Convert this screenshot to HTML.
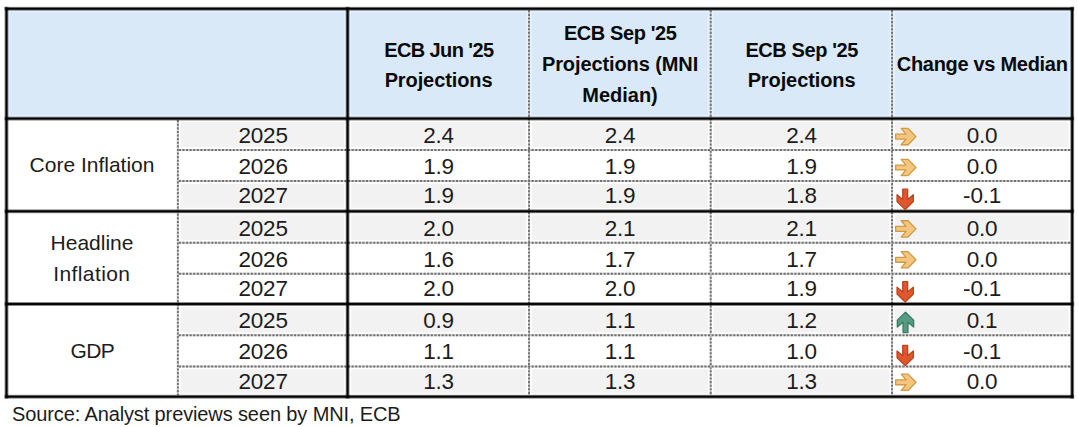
<!DOCTYPE html>
<html><head><meta charset="utf-8"><style>
html,body{margin:0;padding:0;background:#fff;}
body{width:1078px;height:427px;position:relative;overflow:hidden;font-family:"Liberation Sans", Arial, sans-serif;color:#1c1c1c;}
body>div{position:absolute;white-space:nowrap;text-align:center;}
svg{position:absolute;left:0;top:0;}
</style></head><body>
<svg width="1078" height="427" viewBox="0 0 1078 427"><rect x="6.50" y="8.75" width="1065.70" height="109.85" fill="#E5F2FD"/><rect x="10.00" y="12.25" width="334.10" height="102.85" fill="#DAE9F8"/><rect x="351.10" y="12.25" width="175.20" height="102.85" fill="#DAE9F8"/><rect x="531.80" y="12.25" width="176.15" height="102.85" fill="#DAE9F8"/><rect x="713.45" y="12.25" width="175.85" height="102.85" fill="#DAE9F8"/><rect x="894.80" y="12.25" width="173.90" height="102.85" fill="#DAE9F8"/><rect x="180.60" y="122.10" width="163.50" height="25.20" fill="#F2F2F2"/><rect x="351.10" y="122.10" width="175.20" height="25.20" fill="#F2F2F2"/><rect x="531.80" y="122.10" width="176.15" height="25.20" fill="#F2F2F2"/><rect x="713.45" y="122.10" width="175.85" height="25.20" fill="#F2F2F2"/><rect x="894.80" y="122.10" width="173.90" height="25.20" fill="#F2F2F2"/><rect x="180.60" y="183.80" width="163.50" height="24.00" fill="#F2F2F2"/><rect x="351.10" y="183.80" width="175.20" height="24.00" fill="#F2F2F2"/><rect x="531.80" y="183.80" width="176.15" height="24.00" fill="#F2F2F2"/><rect x="713.45" y="183.80" width="175.85" height="24.00" fill="#F2F2F2"/><rect x="180.60" y="214.80" width="163.50" height="25.15" fill="#F2F2F2"/><rect x="351.10" y="214.80" width="175.20" height="25.15" fill="#F2F2F2"/><rect x="531.80" y="214.80" width="176.15" height="25.15" fill="#F2F2F2"/><rect x="713.45" y="214.80" width="175.85" height="25.15" fill="#F2F2F2"/><rect x="894.80" y="214.80" width="173.90" height="25.15" fill="#F2F2F2"/><rect x="180.60" y="307.50" width="163.50" height="25.05" fill="#F2F2F2"/><rect x="351.10" y="307.50" width="175.20" height="25.05" fill="#F2F2F2"/><rect x="531.80" y="307.50" width="176.15" height="25.05" fill="#F2F2F2"/><rect x="713.45" y="307.50" width="175.85" height="25.05" fill="#F2F2F2"/><rect x="894.80" y="307.50" width="173.90" height="25.05" fill="#F2F2F2"/><rect x="180.60" y="369.25" width="163.50" height="23.95" fill="#F2F2F2"/><rect x="351.10" y="369.25" width="175.20" height="23.95" fill="#F2F2F2"/><rect x="531.80" y="369.25" width="176.15" height="23.95" fill="#F2F2F2"/><rect x="713.45" y="369.25" width="175.85" height="23.95" fill="#F2F2F2"/><line x1="177.85" y1="120.10" x2="177.85" y2="395.20" stroke="#cfcfcf" stroke-width="1.9"/><line x1="177.85" y1="120.10" x2="177.85" y2="395.20" stroke="#727272" stroke-width="1.9" stroke-dasharray="2.1 1.5"/><line x1="529.05" y1="10.25" x2="529.05" y2="395.20" stroke="#cfcfcf" stroke-width="1.9"/><line x1="529.05" y1="10.25" x2="529.05" y2="395.20" stroke="#727272" stroke-width="1.9" stroke-dasharray="2.1 1.5"/><line x1="710.70" y1="10.25" x2="710.70" y2="395.20" stroke="#cfcfcf" stroke-width="1.9"/><line x1="710.70" y1="10.25" x2="710.70" y2="395.20" stroke="#727272" stroke-width="1.9" stroke-dasharray="2.1 1.5"/><line x1="892.05" y1="10.25" x2="892.05" y2="395.20" stroke="#cfcfcf" stroke-width="1.9"/><line x1="892.05" y1="10.25" x2="892.05" y2="395.20" stroke="#727272" stroke-width="1.9" stroke-dasharray="2.1 1.5"/><line x1="178.80" y1="150.05" x2="1070.70" y2="150.05" stroke="#cfcfcf" stroke-width="1.9"/><line x1="178.80" y1="150.05" x2="1070.70" y2="150.05" stroke="#727272" stroke-width="1.9" stroke-dasharray="2.1 1.5"/><line x1="178.80" y1="181.05" x2="1070.70" y2="181.05" stroke="#cfcfcf" stroke-width="1.9"/><line x1="178.80" y1="181.05" x2="1070.70" y2="181.05" stroke="#727272" stroke-width="1.9" stroke-dasharray="2.1 1.5"/><line x1="178.80" y1="242.70" x2="1070.70" y2="242.70" stroke="#cfcfcf" stroke-width="1.9"/><line x1="178.80" y1="242.70" x2="1070.70" y2="242.70" stroke="#727272" stroke-width="1.9" stroke-dasharray="2.1 1.5"/><line x1="178.80" y1="273.70" x2="1070.70" y2="273.70" stroke="#cfcfcf" stroke-width="1.9"/><line x1="178.80" y1="273.70" x2="1070.70" y2="273.70" stroke="#727272" stroke-width="1.9" stroke-dasharray="2.1 1.5"/><line x1="178.80" y1="335.30" x2="1070.70" y2="335.30" stroke="#cfcfcf" stroke-width="1.9"/><line x1="178.80" y1="335.30" x2="1070.70" y2="335.30" stroke="#727272" stroke-width="1.9" stroke-dasharray="2.1 1.5"/><line x1="178.80" y1="366.50" x2="1070.70" y2="366.50" stroke="#cfcfcf" stroke-width="1.9"/><line x1="178.80" y1="366.50" x2="1070.70" y2="366.50" stroke="#727272" stroke-width="1.9" stroke-dasharray="2.1 1.5"/><rect x="4.60" y="6.85" width="1069.50" height="3.80" fill="rgba(0,0,0,0.5)"/><rect x="4.60" y="116.70" width="1069.50" height="3.80" fill="rgba(0,0,0,0.5)"/><rect x="4.60" y="209.40" width="1069.50" height="3.80" fill="rgba(0,0,0,0.5)"/><rect x="4.60" y="302.10" width="1069.50" height="3.80" fill="rgba(0,0,0,0.5)"/><rect x="4.60" y="394.80" width="1069.50" height="3.80" fill="rgba(0,0,0,0.5)"/><rect x="4.60" y="6.85" width="3.80" height="391.75" fill="rgba(0,0,0,0.5)"/><rect x="345.70" y="6.85" width="3.80" height="391.75" fill="rgba(0,0,0,0.5)"/><rect x="1070.30" y="6.85" width="3.80" height="391.75" fill="rgba(0,0,0,0.5)"/><rect x="5.55" y="7.80" width="1067.60" height="1.90" fill="#000"/><rect x="5.55" y="117.65" width="1067.60" height="1.90" fill="#000"/><rect x="5.55" y="210.35" width="1067.60" height="1.90" fill="#000"/><rect x="5.55" y="303.05" width="1067.60" height="1.90" fill="#000"/><rect x="5.55" y="395.75" width="1067.60" height="1.90" fill="#000"/><rect x="5.55" y="7.80" width="1.90" height="389.85" fill="#000"/><rect x="346.65" y="7.80" width="1.90" height="389.85" fill="#000"/><rect x="1071.25" y="7.80" width="1.90" height="389.85" fill="#000"/><polygon points="901.19,128.45 908.06,128.45 915.95,136.60 908.06,144.75 901.19,144.75 905.99,139.05 895.65,139.05 895.65,134.15 905.99,134.15" fill="#F2C681" stroke="#D09A42" stroke-width="1.3" stroke-linejoin="round"/><polygon points="901.19,159.35 908.06,159.35 915.95,167.50 908.06,175.65 901.19,175.65 905.99,169.95 895.65,169.95 895.65,165.05 905.99,165.05" fill="#F2C681" stroke="#D09A42" stroke-width="1.3" stroke-linejoin="round"/><polygon points="913.35,194.69 913.35,201.56 905.20,209.45 897.05,201.56 897.05,194.69 902.75,199.49 902.75,189.15 907.65,189.15 907.65,199.49" fill="#E2562F" stroke="#B9461E" stroke-width="1.3" stroke-linejoin="round"/><polygon points="901.19,220.75 908.06,220.75 915.95,228.90 908.06,237.05 901.19,237.05 905.99,231.35 895.65,231.35 895.65,226.45 905.99,226.45" fill="#F2C681" stroke="#D09A42" stroke-width="1.3" stroke-linejoin="round"/><polygon points="901.19,251.65 908.06,251.65 915.95,259.80 908.06,267.95 901.19,267.95 905.99,262.25 895.65,262.25 895.65,257.35 905.99,257.35" fill="#F2C681" stroke="#D09A42" stroke-width="1.3" stroke-linejoin="round"/><polygon points="913.35,287.19 913.35,294.06 905.20,301.95 897.05,294.06 897.05,287.19 902.75,291.99 902.75,281.65 907.65,281.65 907.65,291.99" fill="#E2562F" stroke="#B9461E" stroke-width="1.3" stroke-linejoin="round"/><polygon points="897.35,327.01 897.35,320.14 905.50,312.25 913.65,320.14 913.65,327.01 907.95,322.21 907.95,332.55 903.05,332.55 903.05,322.21" fill="#569C82" stroke="#3C7A64" stroke-width="1.3" stroke-linejoin="round"/><polygon points="913.35,350.89 913.35,357.76 905.20,365.65 897.05,357.76 897.05,350.89 902.75,355.69 902.75,345.35 907.65,345.35 907.65,355.69" fill="#E2562F" stroke="#B9461E" stroke-width="1.3" stroke-linejoin="round"/><polygon points="901.19,374.15 908.06,374.15 915.95,382.30 908.06,390.45 901.19,390.45 905.99,384.75 895.65,384.75 895.65,379.85 905.99,379.85" fill="#F2C681" stroke="#D09A42" stroke-width="1.3" stroke-linejoin="round"/></svg>
<div style="left:348px;top:34.77px;width:181px;line-height:30px;font-size:20px;font-weight:700;color:#0a0a0a;letter-spacing:-0.6px;text-indent:0.6px;">ECB Jun '25</div>
<div style="left:348px;top:65.37px;width:181px;line-height:30px;font-size:20px;font-weight:700;color:#0a0a0a;letter-spacing:-0.1px;text-indent:0.1px;">Projections</div>
<div style="left:529px;top:18.47px;width:182px;line-height:30px;font-size:20px;font-weight:700;color:#0a0a0a;letter-spacing:-0.4px;text-indent:0.4px;">ECB Sep '25</div>
<div style="left:529px;top:49.47px;width:182px;line-height:30px;font-size:20px;font-weight:700;color:#0a0a0a;letter-spacing:-0.1px;text-indent:0.1px;">Projections (MNI</div>
<div style="left:529px;top:80.47px;width:182px;line-height:30px;font-size:20px;font-weight:700;color:#0a0a0a;">Median)</div>
<div style="left:711px;top:34.57px;width:181px;line-height:30px;font-size:20px;font-weight:700;color:#0a0a0a;letter-spacing:-0.4px;text-indent:0.4px;">ECB Sep '25</div>
<div style="left:711px;top:65.07px;width:181px;line-height:30px;font-size:20px;font-weight:700;color:#0a0a0a;letter-spacing:-0.1px;text-indent:0.1px;">Projections</div>
<div style="left:892px;top:49.37px;width:180px;line-height:30px;font-size:20px;font-weight:700;color:#0a0a0a;letter-spacing:-0.3px;text-indent:0.3px;">Change vs Median</div>
<div style="left:6px;top:150.02px;width:172px;line-height:30px;font-size:21px;">Core Inflation</div>
<div style="left:6px;top:227.82px;width:172px;line-height:30px;font-size:21px;">Headline</div>
<div style="left:6px;top:258.72px;width:172px;line-height:30px;font-size:21px;letter-spacing:0.4px;text-indent:-0.4px;">Inflation</div>
<div style="left:6px;top:335.52px;width:172px;line-height:30px;font-size:21px;letter-spacing:-0.6px;text-indent:0.6px;">GDP</div>
<div style="left:178px;top:121.30px;width:170px;line-height:30px;font-size:22.5px;letter-spacing:-0.2px;text-indent:0.2px;">2025</div>
<div style="left:348px;top:121.30px;width:181px;line-height:30px;font-size:22.5px;letter-spacing:-0.2px;text-indent:0.2px;">2.4</div>
<div style="left:529px;top:121.30px;width:182px;line-height:30px;font-size:22.5px;letter-spacing:-0.2px;text-indent:0.2px;">2.4</div>
<div style="left:711px;top:121.30px;width:181px;line-height:30px;font-size:22.5px;letter-spacing:-0.2px;text-indent:0.2px;">2.4</div>
<div style="left:892px;top:121.30px;width:180px;line-height:30px;font-size:22.5px;letter-spacing:-0.2px;text-indent:0.2px;">0.0</div>
<div style="left:178px;top:152.20px;width:170px;line-height:30px;font-size:22.5px;letter-spacing:-0.2px;text-indent:0.2px;">2026</div>
<div style="left:348px;top:152.20px;width:181px;line-height:30px;font-size:22.5px;letter-spacing:-0.2px;text-indent:0.2px;">1.9</div>
<div style="left:529px;top:152.20px;width:182px;line-height:30px;font-size:22.5px;letter-spacing:-0.2px;text-indent:0.2px;">1.9</div>
<div style="left:711px;top:152.20px;width:181px;line-height:30px;font-size:22.5px;letter-spacing:-0.2px;text-indent:0.2px;">1.9</div>
<div style="left:892px;top:152.20px;width:180px;line-height:30px;font-size:22.5px;letter-spacing:-0.2px;text-indent:0.2px;">0.0</div>
<div style="left:178px;top:181.20px;width:170px;line-height:30px;font-size:22.5px;letter-spacing:-0.2px;text-indent:0.2px;">2027</div>
<div style="left:348px;top:181.20px;width:181px;line-height:30px;font-size:22.5px;letter-spacing:-0.2px;text-indent:0.2px;">1.9</div>
<div style="left:529px;top:181.20px;width:182px;line-height:30px;font-size:22.5px;letter-spacing:-0.2px;text-indent:0.2px;">1.9</div>
<div style="left:711px;top:181.20px;width:181px;line-height:30px;font-size:22.5px;letter-spacing:-0.2px;text-indent:0.2px;">1.8</div>
<div style="left:892px;top:181.20px;width:180px;line-height:30px;font-size:22.5px;letter-spacing:-0.2px;text-indent:0.2px;">-0.1</div>
<div style="left:178px;top:213.60px;width:170px;line-height:30px;font-size:22.5px;letter-spacing:-0.2px;text-indent:0.2px;">2025</div>
<div style="left:348px;top:213.60px;width:181px;line-height:30px;font-size:22.5px;letter-spacing:-0.2px;text-indent:0.2px;">2.0</div>
<div style="left:529px;top:213.60px;width:182px;line-height:30px;font-size:22.5px;letter-spacing:-0.2px;text-indent:0.2px;">2.1</div>
<div style="left:711px;top:213.60px;width:181px;line-height:30px;font-size:22.5px;letter-spacing:-0.2px;text-indent:0.2px;">2.1</div>
<div style="left:892px;top:213.60px;width:180px;line-height:30px;font-size:22.5px;letter-spacing:-0.2px;text-indent:0.2px;">0.0</div>
<div style="left:178px;top:244.50px;width:170px;line-height:30px;font-size:22.5px;letter-spacing:-0.2px;text-indent:0.2px;">2026</div>
<div style="left:348px;top:244.50px;width:181px;line-height:30px;font-size:22.5px;letter-spacing:-0.2px;text-indent:0.2px;">1.6</div>
<div style="left:529px;top:244.50px;width:182px;line-height:30px;font-size:22.5px;letter-spacing:-0.2px;text-indent:0.2px;">1.7</div>
<div style="left:711px;top:244.50px;width:181px;line-height:30px;font-size:22.5px;letter-spacing:-0.2px;text-indent:0.2px;">1.7</div>
<div style="left:892px;top:244.50px;width:180px;line-height:30px;font-size:22.5px;letter-spacing:-0.2px;text-indent:0.2px;">0.0</div>
<div style="left:178px;top:273.70px;width:170px;line-height:30px;font-size:22.5px;letter-spacing:-0.2px;text-indent:0.2px;">2027</div>
<div style="left:348px;top:273.70px;width:181px;line-height:30px;font-size:22.5px;letter-spacing:-0.2px;text-indent:0.2px;">2.0</div>
<div style="left:529px;top:273.70px;width:182px;line-height:30px;font-size:22.5px;letter-spacing:-0.2px;text-indent:0.2px;">2.0</div>
<div style="left:711px;top:273.70px;width:181px;line-height:30px;font-size:22.5px;letter-spacing:-0.2px;text-indent:0.2px;">1.9</div>
<div style="left:892px;top:273.70px;width:180px;line-height:30px;font-size:22.5px;letter-spacing:-0.2px;text-indent:0.2px;">-0.1</div>
<div style="left:178px;top:306.20px;width:170px;line-height:30px;font-size:22.5px;letter-spacing:-0.2px;text-indent:0.2px;">2025</div>
<div style="left:348px;top:306.20px;width:181px;line-height:30px;font-size:22.5px;letter-spacing:-0.2px;text-indent:0.2px;">0.9</div>
<div style="left:529px;top:306.20px;width:182px;line-height:30px;font-size:22.5px;letter-spacing:-0.2px;text-indent:0.2px;">1.1</div>
<div style="left:711px;top:306.20px;width:181px;line-height:30px;font-size:22.5px;letter-spacing:-0.2px;text-indent:0.2px;">1.2</div>
<div style="left:892px;top:306.20px;width:180px;line-height:30px;font-size:22.5px;letter-spacing:-0.2px;text-indent:0.2px;">0.1</div>
<div style="left:178px;top:337.40px;width:170px;line-height:30px;font-size:22.5px;letter-spacing:-0.2px;text-indent:0.2px;">2026</div>
<div style="left:348px;top:337.40px;width:181px;line-height:30px;font-size:22.5px;letter-spacing:-0.2px;text-indent:0.2px;">1.1</div>
<div style="left:529px;top:337.40px;width:182px;line-height:30px;font-size:22.5px;letter-spacing:-0.2px;text-indent:0.2px;">1.1</div>
<div style="left:711px;top:337.40px;width:181px;line-height:30px;font-size:22.5px;letter-spacing:-0.2px;text-indent:0.2px;">1.0</div>
<div style="left:892px;top:337.40px;width:180px;line-height:30px;font-size:22.5px;letter-spacing:-0.2px;text-indent:0.2px;">-0.1</div>
<div style="left:178px;top:367.00px;width:170px;line-height:30px;font-size:22.5px;letter-spacing:-0.2px;text-indent:0.2px;">2027</div>
<div style="left:348px;top:367.00px;width:181px;line-height:30px;font-size:22.5px;letter-spacing:-0.2px;text-indent:0.2px;">1.3</div>
<div style="left:529px;top:367.00px;width:182px;line-height:30px;font-size:22.5px;letter-spacing:-0.2px;text-indent:0.2px;">1.3</div>
<div style="left:711px;top:367.00px;width:181px;line-height:30px;font-size:22.5px;letter-spacing:-0.2px;text-indent:0.2px;">1.3</div>
<div style="left:892px;top:367.00px;width:180px;line-height:30px;font-size:22.5px;letter-spacing:-0.2px;text-indent:0.2px;">0.0</div>
<div style="left:12px;top:398.57px;line-height:30px;font-size:20px;letter-spacing:-0.12px;">Source: Analyst previews seen by MNI, ECB</div>
</body></html>
